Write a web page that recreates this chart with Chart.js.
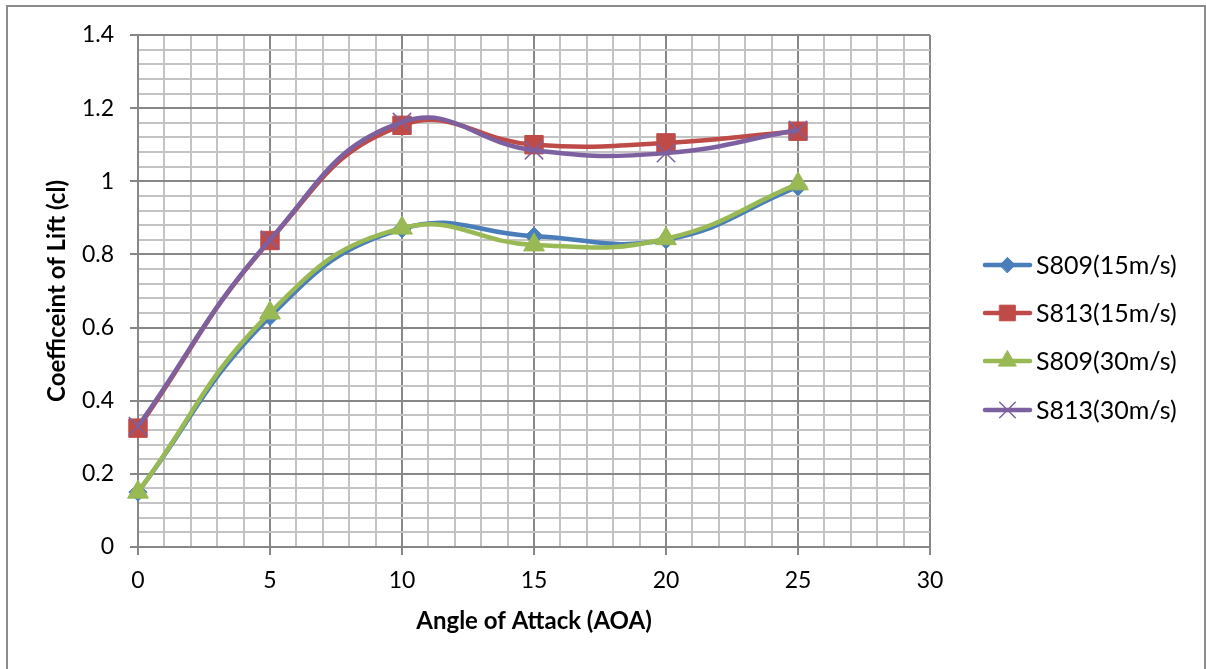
<!DOCTYPE html>
<html>
<head>
<meta charset="utf-8">
<script src="https://cdn.jsdelivr.net/npm/chart.js@4.4.0/dist/chart.umd.min.js"></script>
<style>
html,body{margin:0;padding:0;background:#fff;}
#wrap{width:1206px;height:669px;position:relative;}
</style>
</head>
<body>
<div id="wrap"><canvas id="c" width="1206" height="669"></canvas></div>
<script>
// ---- data ----
const aoa = [0, 5, 10, 15, 20, 25];
const s809_15 = [0.15, 0.63, 0.87, 0.85, 0.84, 0.985];
const s813_15 = [0.325, 0.838, 1.153, 1.10, 1.105, 1.137];
const s809_30 = [0.15, 0.64, 0.872, 0.826, 0.843, 0.993];
const s813_30 = [0.33, 0.84, 1.162, 1.085, 1.077, 1.14];
const seriesLabels = ['S809(15m/s)', 'S813(15m/s)', 'S809(30m/s)', 'S813(30m/s)'];
const xTickLabels = ['0', '5', '10', '15', '20', '25', '30'];
const yTickLabels = ['0', '0.2', '0.4', '0.6', '0.8', '1', '1.2', '1.4'];

const FONT = 'Lato, "Open Sans", sans-serif';
const colors = ['#4A7EBB', '#BE4B48', '#98B954', '#7D60A0'];
const styles = ['rectRot', 'rect', 'triangle', 'crossRot'];
const radii = [9, 13, 12, 13];
const allSeries = [s809_15, s813_15, s809_30, s813_30];

function pts(arr){ return aoa.map((x,i)=>({x:x, y:arr[i]})); }

const datasets = allSeries.map((s, i) => ({
  label: seriesLabels[i],
  data: pts(s),
  showLine: true,
  borderColor: colors[i],
  backgroundColor: colors[i],
  pointBackgroundColor: colors[i],
  pointBorderColor: colors[i],
  pointBorderWidth: i === 3 ? 1.5 : 1,
  borderWidth: 4.5,
  tension: 0.45,
  pointStyle: styles[i],
  pointRadius: radii[i],
  pointHoverRadius: radii[i],
  clip: false,
  order: 4 - i
}));

const MAJOR = '#878787', MINOR = '#c3c3c3';

const bgBorder = {
  id: 'bgBorder',
  beforeDraw(chart){
    const ctx = chart.ctx;
    ctx.save();
    ctx.fillStyle = '#fff';
    ctx.fillRect(0,0,chart.width,chart.height);
    ctx.restore();
  },
  afterDraw(chart){
    const ctx = chart.ctx;
    ctx.save();
    ctx.strokeStyle = '#8c8c8c';
    ctx.lineWidth = 2;
    ctx.beginPath();
    ctx.moveTo(7, 700); ctx.lineTo(7, 6); ctx.lineTo(1205, 6); ctx.lineTo(1205, 700);
    ctx.stroke();
    // legend
    const ys = [265, 313, 361, 410];
    chart.data.datasets.forEach((ds, i) => {
      const y = ys[i];
      ctx.strokeStyle = ds.borderColor;
      ctx.lineWidth = 4.5;
      ctx.lineCap = 'round';
      ctx.beginPath();
      ctx.moveTo(985, y); ctx.lineTo(1030, y);
      ctx.stroke();
      ctx.fillStyle = ds.pointBackgroundColor;
      ctx.strokeStyle = ds.pointBorderColor;
      ctx.lineWidth = ds.pointBorderWidth;
      ctx.save();
      Chart.helpers.drawPoint(ctx, {
        pointStyle: ds.pointStyle, radius: ds.pointRadius * 0.85, borderWidth: ds.pointBorderWidth, rotation: 0
      }, 1007.5, y);
      ctx.restore();
      ctx.fillStyle = '#000';
      ctx.font = '25px ' + FONT;
      ctx.textBaseline = 'middle';
      ctx.textAlign = 'left';
      ctx.fillText(ds.label, 1036, y + 1);
    });
    ctx.restore();
  }
};

new Chart(document.getElementById('c'), {
  type: 'scatter',
  data: { datasets },
  plugins: [bgBorder],
  options: {
    responsive: false,
    animation: false,
    events: [],
    layout: { padding: { top: 35, right: 276, left: 0, bottom: 0 } },
    plugins: { legend: { display: false }, tooltip: { enabled: false } },
    scales: {
      x: {
        type: 'linear', min: 0, max: 30,
        afterFit(s){ s.height = 669 - 547; },
        ticks: {
          stepSize: 1, autoSkip: false, maxTicksLimit: 100, maxRotation: 0,
          padding: 12,
          color: '#000',
          font: { family: FONT, size: 23 },
          callback(v){ return (v % 5 === 0) ? xTickLabels[v/5] : ''; }
        },
        grid: {
          color: c => (c.tick && c.tick.value % 5 === 0) ? MAJOR : MINOR,
          lineWidth: 2,
          tickLength: 8,
          tickColor: c => (c.tick && c.tick.value % 5 === 0) ? MAJOR : 'rgba(0,0,0,0)'
        },
        border: { color: MAJOR, width: 2 },
        title: {
          display: true, text: 'Angle of Attack (AOA)', color: '#000',
          font: { family: FONT, size: 24, weight: 'bold' },
          padding: { top: 0, bottom: 33 }
        }
      },
      y: {
        type: 'linear', min: 0, max: 1.4,
        afterFit(s){ s.width = 138; },
        ticks: {
          stepSize: 0.04, autoSkip: false, maxTicksLimit: 100,
          padding: 16,
          color: '#000',
          font: { family: FONT, size: 23 },
          callback(v){
            const k = v / 0.2;
            return Math.abs(k - Math.round(k)) < 1e-6 ? yTickLabels[Math.round(k)] : '';
          }
        },
        grid: {
          color: c => { if(!c.tick) return MINOR; const k = c.tick.value/0.2; return Math.abs(k-Math.round(k))<1e-6 ? MAJOR : MINOR; },
          lineWidth: 2,
          tickLength: 8,
          tickColor: c => { if(!c.tick) return 'rgba(0,0,0,0)'; const k = c.tick.value/0.2; return Math.abs(k-Math.round(k))<1e-6 ? MAJOR : 'rgba(0,0,0,0)'; }
        },
        border: { color: MAJOR, width: 2 },
        title: {
          display: true, text: 'Coefficeint of Lift (cl)', color: '#000',
          font: { family: FONT, size: 24, weight: 'bold' },
          padding: { top: 43, bottom: 0 }
        }
      }
    }
  }
});
</script>
</body>
</html>
